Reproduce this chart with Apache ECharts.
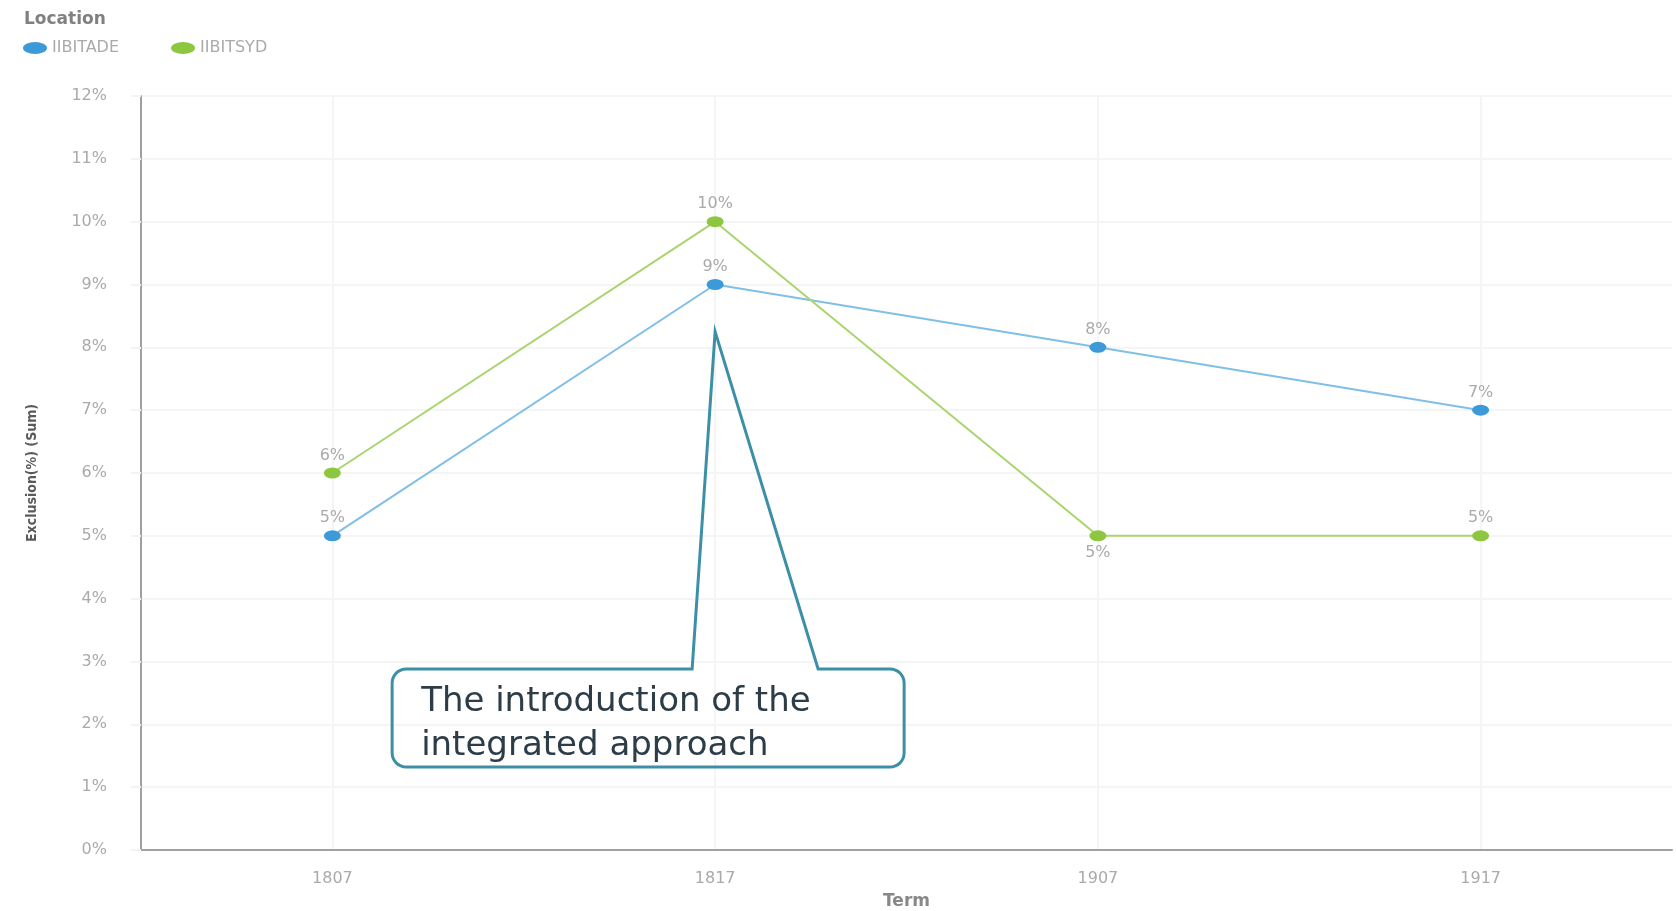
<!DOCTYPE html>
<html lang="en">
<head>
    <meta charset="UTF-8">
    <title>Exclusion by Term</title>
    <script src="https://cdn.jsdelivr.net/npm/echarts@6/dist/echarts.min.js"></script>
    <style>
        html, body { margin: 0; padding: 0; background: #fff; }
        #main { width: 1676px; height: 911px; }
    </style>
</head>
<body>
<div id="main"></div>
<script type="text/javascript">
    var terms = ['1807', '1817', '1907', '1917'];
    var adeValues = [5, 9, 8, 7];      // IIBITADE
    var sydValues = [6, 10, 5, 5];     // IIBITSYD
    var yTicks = [0, 1, 2, 3, 4, 5, 6, 7, 8, 9, 10, 11, 12];
    var noteText = 'The introduction of the\nintegrated approach';

    var myChart = echarts.init(document.getElementById('main'));

    var ellipse = 'path://M0,5a10,5 0 1,0 20,0a10,5 0 1,0 -20,0';

    var labelStyle = {
        show: true,
        position: 'top',
        distance: 4,
        color: '#aaaaaa',
        fontSize: 16,
        fontFamily: 'DejaVu Sans',
        formatter: '{c}%'
    };

    // green 1907 label sits under the point
    var sydData = sydValues.map(function (v, i) {
        if (i === 2) {
            return { value: v, label: { position: 'bottom' } };
        }
        return v;
    });

    myChart.setOption({
        animation: false,
        title: {
            text: 'Location',
            left: 19,
            top: 6,
            textStyle: { fontSize: 17, fontWeight: 'bold', color: '#808080', fontFamily: 'DejaVu Sans' }
        },
        legend: {
            left: 18,
            top: 35,
            itemWidth: 24,
            itemHeight: 15,
            itemGap: 52,
            icon: ellipse,
            textStyle: { color: '#aaaaaa', fontSize: 16, fontFamily: 'DejaVu Sans' },
            data: ['IIBITADE', 'IIBITSYD']
        },
        grid: { left: 141, right: 4, top: 96, bottom: 61, containLabel: false, outerBoundsMode: 'none' },
        xAxis: {
            type: 'category',
            data: terms,
            name: 'Term',
            nameLocation: 'middle',
            nameGap: 43,
            nameTextStyle: { color: '#888', fontSize: 17, fontWeight: 'bold', fontFamily: 'DejaVu Sans' },
            axisLine: { lineStyle: { color: '#a0a0a0', width: 2 } },
            axisTick: { alignWithLabel: true, length: 8, lineStyle: { color: '#f3f3f3', width: 2 } },
            axisLabel: { color: '#aaaaaa', fontSize: 16, margin: 21, fontFamily: 'DejaVu Sans' },
            splitLine: { show: true, alignWithLabel: true, lineStyle: { color: '#f5f5f5', width: 2 } }
        },
        yAxis: {
            type: 'value',
            min: yTicks[0],
            max: yTicks[yTicks.length - 1],
            interval: 1,
            name: 'Exclusion(%) (Sum)',
            nameLocation: 'middle',
            nameGap: 102,
            nameTextStyle: { color: '#5a5a5a', fontSize: 14, fontWeight: 'bold', fontFamily: 'DejaVu Sans Condensed' },
            axisLine: { show: true, lineStyle: { color: '#a0a0a0', width: 2 } },
            axisTick: { show: true, length: 10, lineStyle: { color: '#f3f3f3', width: 2 } },
            axisLabel: { color: '#aaaaaa', fontSize: 16, margin: 34, formatter: '{value}%', fontFamily: 'DejaVu Sans' },
            splitLine: { lineStyle: { color: '#f5f5f5', width: 2 } }
        },
        series: [
            {
                name: 'IIBITADE',
                type: 'line',
                data: adeValues,
                symbol: ellipse,
                symbolSize: [17, 11],
                itemStyle: { color: '#3d9ad8' },
                lineStyle: { color: '#80bfe6', width: 2 },
                label: labelStyle
            },
            {
                name: 'IIBITSYD',
                type: 'line',
                data: sydData,
                symbol: ellipse,
                symbolSize: [17, 11],
                itemStyle: { color: '#8dc63f' },
                lineStyle: { color: '#a9d56e', width: 2 },
                label: labelStyle
            }
        ]
    });

    // callout, anchored to the 1817 column
    var tipX = myChart.convertToPixel({ xAxisIndex: 0 }, terms[1]);
    var tipY = myChart.convertToPixel({ yAxisIndex: 0 }, 8.25);
    var boxL = tipX - 323, boxR = tipX + 189, boxT = 669, boxB = 767, r = 14;
    var baseL = tipX - 23, baseR = tipX + 103;

    function corner(cx, cy, a0) {
        var pts = [];
        for (var k = 0; k <= 8; k++) {
            var a = (a0 + k * 90 / 8) * Math.PI / 180;
            pts.push([cx + r * Math.cos(a), cy + r * Math.sin(a)]);
        }
        return pts;
    }

    var outline = [[baseL, boxT], [tipX, tipY], [baseR, boxT]]
        .concat(corner(boxR - r, boxT + r, -90))
        .concat(corner(boxR - r, boxB - r, 0))
        .concat(corner(boxL + r, boxB - r, 90))
        .concat(corner(boxL + r, boxT + r, 180));

    myChart.setOption({
        graphic: [
            {
                type: 'polygon',
                shape: { points: outline },
                style: { fill: 'none', stroke: '#3d8fa8', lineWidth: 3, lineJoin: 'miter' },
                z: 100
            },
            {
                type: 'text',
                x: boxL + 29,
                y: boxT + 11,
                style: {
                    text: noteText,
                    fill: '#2c3d48',
                    font: '34px "DejaVu Sans"',
                    lineHeight: 44
                },
                z: 100
            }
        ]
    });

    window.onresize = function () {
        myChart.resize();
    };
</script>
</body>
</html>
